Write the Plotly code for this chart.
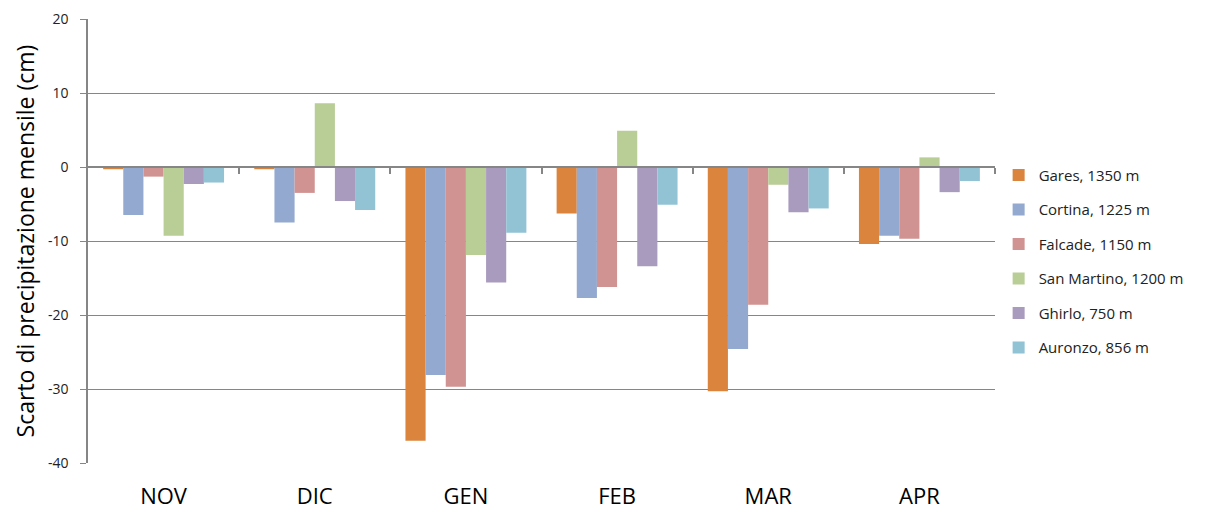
import plotly.graph_objects as go

months = ["NOV", "DIC", "GEN", "FEB", "MAR", "APR"]
series_names = ["Gares, 1350 m", "Cortina, 1225 m", "Falcade, 1150 m",
                "San Martino, 1200 m", "Ghirlo, 750 m", "Auronzo, 856 m"]
gares = [-0.3, -0.3, -37.0, -6.3, -30.3, -10.4]
cortina = [-6.5, -7.5, -28.1, -17.7, -24.6, -9.3]
falcade = [-1.3, -3.5, -29.7, -16.2, -18.6, -9.7]
san_martino = [-9.3, 8.6, -11.9, 4.9, -2.4, 1.3]
ghirlo = [-2.3, -4.6, -15.6, -13.4, -6.1, -3.4]
auronzo = [-2.1, -5.8, -8.9, -5.1, -5.6, -1.9]
values = [gares, cortina, falcade, san_martino, ghirlo, auronzo]
colors = ["#DB843D", "#93A9CF", "#D19392", "#B9CD96", "#A99BBD", "#92C3D4"]
yticks = [-40, -30, -20, -10, 0, 10, 20]
ytick_text = ["-40", "-30", "-20", "-10", "0", "10", "20"]
y_title = "Scarto di precipitazione mensile (cm)"

fig = go.Figure()
for name, vals, col in zip(series_names, values, colors):
    fig.add_trace(go.Bar(x=months, y=vals, name=name, legendgroup=name,
                         marker=dict(color=col, line=dict(width=0))))

# invisible trace on overlay axis to draw the category-separator ticks on the zero line
fig.add_trace(go.Scatter(x=[0], y=[0], xaxis="x2", mode="markers",
                         marker=dict(opacity=0), showlegend=False, hoverinfo="skip"))

grid = "#868686"
fig.update_layout(
    width=1205, height=513,
    margin=dict(l=80, r=218, t=11, b=58, autoexpand=False),
    plot_bgcolor="white", paper_bgcolor="white",
    barmode="group", bargap=0.2, bargroupgap=0,
    font=dict(family="Open Sans", color="#000000"),
    xaxis=dict(categoryorder="array", categoryarray=months, automargin=False,
               showgrid=False, showline=False, zeroline=False,
               tickfont=dict(size=22, color="#000"), ticks="", ticklen=0,
               ticklabelstandoff=18),
    xaxis2=dict(overlaying="x", anchor="free", position=2/3, range=[-0.5, 5.5],
                automargin=False,
                showgrid=False, showline=True, linecolor=grid, linewidth=1.5,
                zeroline=False, showticklabels=False,
                tickvals=[0.5, 1.5, 2.5, 3.5, 4.5, 5.5], ticks="outside",
                ticklen=6, tickcolor=grid, tickwidth=1.5),
    yaxis=dict(range=[-40, 20], tickvals=yticks, ticktext=ytick_text,
               automargin=False,
               showgrid=True, gridcolor=grid,
               gridwidth=1, zeroline=False, showline=True, linecolor=grid,
               linewidth=1.5, ticks="outside", ticklen=6, tickcolor=grid,
               ticklabelstandoff=9,
               tickfont=dict(size=14, color="#222")),
    legend=dict(x=1.004, y=0.685, xanchor="left", yanchor="top",
                font=dict(size=15, color="#222"), tracegroupgap=12,
                itemwidth=30, bgcolor="rgba(0,0,0,0)"),
    annotations=[dict(text=y_title, xref="paper", yref="paper", x=-0.069, y=0.5,
                      xanchor="center", yanchor="middle", textangle=-90,
                      showarrow=False, font=dict(size=23, color="#000"))],
)

fig.write_html("out.html")
